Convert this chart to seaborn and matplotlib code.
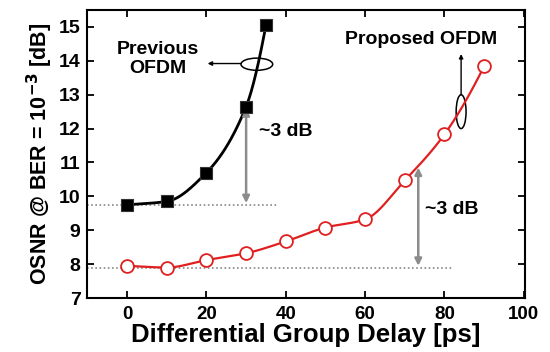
import numpy as np
import pandas as pd
import matplotlib
matplotlib.use("Agg")
import matplotlib.pyplot as plt
from matplotlib.patches import Ellipse
import seaborn as sns

# Data
prev_dgd = [0, 10, 20, 30, 35]
prev_osnr = [9.75, 9.85, 10.7, 12.65, 15.05]
prop_dgd = [0, 10, 20, 30, 40, 50, 60, 70, 80, 90]
prop_osnr = [7.95, 7.9, 8.12, 8.32, 8.67, 9.08, 9.32, 10.47, 11.83, 13.84]
x_ticks = [0, 20, 40, 60, 80, 100]
y_ticks = [7, 8, 9, 10, 11, 12, 13, 14, 15]


def pchip(x, y, n=300):
    x = np.asarray(x, float)
    y = np.asarray(y, float)
    h = np.diff(x)
    d = np.diff(y) / h
    k = len(x)
    m = np.zeros(k)
    for i in range(1, k - 1):
        if d[i - 1] * d[i] > 0:
            w1 = 2 * h[i] + h[i - 1]
            w2 = h[i] + 2 * h[i - 1]
            m[i] = (w1 + w2) / (w1 / d[i - 1] + w2 / d[i])
    m[0] = d[0]
    m[-1] = d[-1] + (d[-1] - d[-2]) * 0.5
    xs = np.linspace(x[0], x[-1], n)
    ys = np.empty_like(xs)
    for j, xv in enumerate(xs):
        i = min(np.searchsorted(x, xv, side="right") - 1, k - 2)
        t = (xv - x[i]) / h[i]
        h00 = 2 * t ** 3 - 3 * t ** 2 + 1
        h10 = t ** 3 - 2 * t ** 2 + t
        h01 = -2 * t ** 3 + 3 * t ** 2
        h11 = t ** 3 - t ** 2
        ys[j] = h00 * y[i] + h10 * h[i] * m[i] + h01 * y[i + 1] + h11 * h[i] * m[i + 1]
    return xs, ys


sns.set_theme(style="ticks")
plt.rcParams["font.family"] = ["Liberation Sans", "DejaVu Sans"]
plt.rcParams["font.weight"] = "bold"
for key in ["text.color", "axes.labelcolor", "xtick.color", "ytick.color", "axes.edgecolor"]:
    plt.rcParams[key] = "black"

fig = plt.figure(figsize=(5.5, 3.52), dpi=100)
ax = fig.add_axes([0.159, 0.1534, 0.7955, 0.8182])

# dotted reference lines
ax.plot([-10, 38], [prev_osnr[0], prev_osnr[0]], ls=(0, (1, 1.5)), color="#888888", lw=1.2)
ax.plot([-10, 82], [prop_osnr[1], prop_osnr[1]], ls=(0, (1, 1.5)), color="#888888", lw=1.2)

# smooth curves
xs, ys = pchip(prev_dgd, prev_osnr)
sns.lineplot(x=xs, y=ys, ax=ax, color="black", lw=2, sort=False)
xs, ys = pchip(prop_dgd, prop_osnr)
sns.lineplot(x=xs, y=ys, ax=ax, color="#e02020", lw=1.6, sort=False)

# markers
df_prev = pd.DataFrame({"dgd": prev_dgd, "osnr": prev_osnr})
df_prop = pd.DataFrame({"dgd": prop_dgd, "osnr": prop_osnr})
sns.scatterplot(data=df_prev, x="dgd", y="osnr", ax=ax, marker="s", s=65,
                color="black", edgecolor="#333333", linewidth=0.8, zorder=5)
sns.scatterplot(data=df_prop, x="dgd", y="osnr", ax=ax, marker="o", s=85,
                facecolor="white", edgecolor="#e02020", linewidth=1.3, zorder=5)

# ~3 dB arrows
arrow_kw = dict(arrowstyle="<|-|>", color="#8c8c8c", lw=1.8, mutation_scale=10,
                shrinkA=0, shrinkB=0)
ax.annotate("", xy=(30, 9.8), xytext=(30, 12.6), arrowprops=arrow_kw)
ax.annotate("", xy=(73.4, 7.95), xytext=(73.4, 10.85), arrowprops=arrow_kw)
ax.text(33.2, 11.9, "~3 dB", fontsize=14, fontweight="bold", va="center", ha="left")
ax.text(75.2, 9.6, "~3 dB", fontsize=14, fontweight="bold", va="center", ha="left")

# labels with ellipses
ax.text(7.7, 14.05, "Previous\nOFDM", fontsize=14, fontweight="bold",
        ha="center", va="center", linespacing=1.15)
ax.add_patch(Ellipse((32.7, 13.9), 8, 0.36, fill=False, ec="black", lw=1.1))
ax.annotate("", xy=(20.3, 13.92), xytext=(28.7, 13.92),
            arrowprops=dict(arrowstyle="-|>", color="black", lw=1.0, mutation_scale=6,
                            shrinkA=0, shrinkB=0))
ax.text(74, 14.62, "Proposed OFDM", fontsize=14, fontweight="bold", ha="center", va="center")
ax.add_patch(Ellipse((84.2, 12.5), 2.5, 1.0, fill=False, ec="black", lw=1.1))
ax.annotate("", xy=(84.2, 14.2), xytext=(84.2, 13.0),
            arrowprops=dict(arrowstyle="-|>", color="black", lw=1.0, mutation_scale=6,
                            shrinkA=0, shrinkB=0))

ax.set_xlim(-10, 100.3)
ax.set_ylim(7, 15.5)
ax.set_xticks(x_ticks)
ax.set_yticks(y_ticks)
ax.tick_params(direction="in", top=True, right=True, length=5, width=1.3,
               labelsize=14, pad=5, colors="black")
ax.tick_params(axis="x", pad=6, labelsize=13.5)
for lbl in ax.get_xticklabels() + ax.get_yticklabels():
    lbl.set_fontweight("bold")
for sp in ax.spines.values():
    sp.set_visible(True)
    sp.set_linewidth(1.5)
    sp.set_color("black")

ax.set_xlabel("Differential Group Delay [ps]", fontsize=18.5, fontweight="bold", labelpad=0)
ax.set_ylabel(r"OSNR @ BER = 10$^{\mathbf{-3}}$ [dB]", fontsize=15.5, fontweight="bold", labelpad=3)

fig.savefig("out.png", dpi=100)
